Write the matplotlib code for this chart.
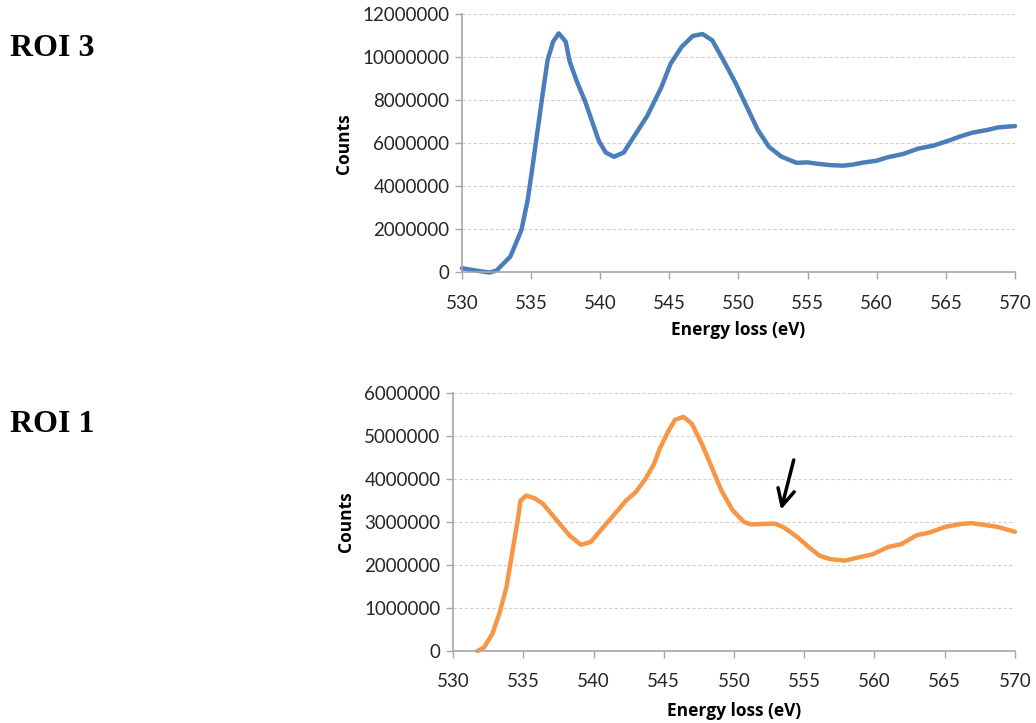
import matplotlib
matplotlib.use("Agg")
import matplotlib.pyplot as plt
from matplotlib.ticker import FuncFormatter

# ROI 3 spectrum
roi3_energy = [530.0, 531.0, 532.0, 532.5, 533.5, 534.3, 534.75, 535.1, 535.5, 535.9, 536.2, 536.6,
               537.0, 537.5, 537.8, 538.3, 538.9, 539.4, 539.9, 540.4, 541.0, 541.7, 542.4, 543.4,
               544.4, 545.1, 545.9, 546.7, 547.4, 548.1, 548.9, 549.8, 550.6, 551.4, 552.2, 553.1,
               554.2, 555.0, 555.8, 556.7, 557.6, 558.3, 558.9, 560.0, 560.8, 561.9, 563.0, 564.1,
               565.2, 566.0, 566.9, 568.0, 568.8, 570.0]
roi3_counts = [200000, 90000, 0, 90000, 740000, 1970000, 3350000, 4900000, 6740000, 8580000, 9900000, 10740000,
               11120000, 10740000, 9800000, 8900000, 7970000, 7050000, 6120000, 5580000, 5380000, 5580000, 6280000, 7280000,
               8580000, 9720000, 10500000, 11000000, 11090000, 10800000, 9880000, 8800000, 7710000, 6630000, 5850000, 5390000,
               5100000, 5120000, 5050000, 4990000, 4970000, 5020000, 5100000, 5200000, 5360000, 5510000, 5760000, 5900000,
               6130000, 6320000, 6500000, 6630000, 6750000, 6810000]

# ROI 1 spectrum
roi1_energy = [531.75, 532.2, 532.8, 533.3, 533.8, 534.2, 534.6, 534.8, 535.2, 535.8, 536.4, 537.3,
               538.3, 539.1, 539.8, 540.6, 541.6, 542.3, 543.0, 543.7, 544.3, 544.7, 545.3, 545.8,
               546.4, 547.0, 547.7, 548.4, 549.1, 549.9, 550.7, 551.2, 552.0, 552.9, 553.5, 554.5,
               555.3, 556.1, 556.9, 557.9, 558.8, 559.9, 561.0, 561.9, 563.0, 563.9, 565.0, 566.1,
               566.9, 568.0, 568.8, 570.0]
roi1_counts = [0, 80000, 400000, 870000, 1480000, 2260000, 3030000, 3490000, 3610000, 3550000, 3420000, 3070000,
               2680000, 2470000, 2530000, 2840000, 3220000, 3490000, 3690000, 4000000, 4340000, 4690000, 5090000, 5370000,
               5440000, 5280000, 4820000, 4280000, 3730000, 3270000, 3000000, 2940000, 2950000, 2960000, 2880000, 2650000,
               2420000, 2210000, 2130000, 2100000, 2170000, 2250000, 2420000, 2480000, 2690000, 2750000, 2880000, 2950000,
               2970000, 2920000, 2880000, 2770000]

x_ticks = [530, 535, 540, 545, 550, 555, 560, 565, 570]
roi3_yticks = [0, 2000000, 4000000, 6000000, 8000000, 10000000, 12000000]
roi1_yticks = [0, 1000000, 2000000, 3000000, 4000000, 5000000, 6000000]

# arrow in ROI 1 (tail -> head), data coords
arrow_tail = (554.3, 4500000)
arrow_head = (553.3, 3220000)

tick_font = "Lato"
fig = plt.figure(figsize=(10.36, 7.23), dpi=100)
fig.patch.set_facecolor("white")

def style(ax, yticks, ymax, xpad, labelpad):
    ax.set_xlim(530, 570)
    ax.set_ylim(0, ymax)
    ax.set_xticks(x_ticks)
    ax.set_yticks(yticks)
    ax.yaxis.set_major_formatter(FuncFormatter(lambda v, p: f"{int(round(v))}"))
    for s in ["top", "right"]:
        ax.spines[s].set_visible(False)
    for s in ["left", "bottom"]:
        ax.spines[s].set_color("#A6A6A6")
        ax.spines[s].set_linewidth(1.2)
    ax.tick_params(axis="both", direction="out", length=5, width=1.0, color="#A6A6A6",
                   labelsize=13.5, labelcolor="#262626")
    ax.tick_params(axis="y", pad=4)
    ax.tick_params(axis="x", pad=xpad)
    for lab in ax.get_xticklabels() + ax.get_yticklabels():
        lab.set_fontfamily(tick_font)
    ax.grid(axis="y", color="#D0D0D0", linestyle=(0, (3, 2)), linewidth=0.8)
    ax.set_axisbelow(True)
    ax.set_xlabel("Energy loss (eV)", fontfamily="Open Sans", fontweight="bold", fontsize=12.5,
                  labelpad=labelpad)
    ax.set_ylabel("Counts", fontfamily="Open Sans", fontweight="bold", fontsize=12.5, labelpad=7)

ax1 = fig.add_axes([0.4459, 0.6231, 0.5338, 0.3569])
ax1.plot(roi3_energy, roi3_counts, color="#4A7EBB", lw=3.2, solid_joinstyle="round",
         solid_capstyle="round", clip_on=False)
style(ax1, roi3_yticks, 12000000, xpad=11, labelpad=7)

ax2 = fig.add_axes([0.4373, 0.0996, 0.5424, 0.3572])
ax2.plot(roi1_energy, roi1_counts, color="#F79646", lw=3.2, solid_joinstyle="round",
         solid_capstyle="round", clip_on=False)
style(ax2, roi1_yticks, 6000000, xpad=10.5, labelpad=9)
ax2.annotate("", xy=arrow_head, xytext=arrow_tail,
             arrowprops=dict(arrowstyle="->", color="black", lw=2.5, mutation_scale=30))

fig.text(10 / 1036, 1 - 48 / 723, "ROI 3", fontfamily="Liberation Serif", fontweight="bold",
         fontsize=23, va="center", ha="left")
fig.text(10 / 1036, 1 - 424 / 723, "ROI 1", fontfamily="Liberation Serif", fontweight="bold",
         fontsize=23, va="center", ha="left")

fig.savefig("out.png", dpi=100, facecolor="white")
